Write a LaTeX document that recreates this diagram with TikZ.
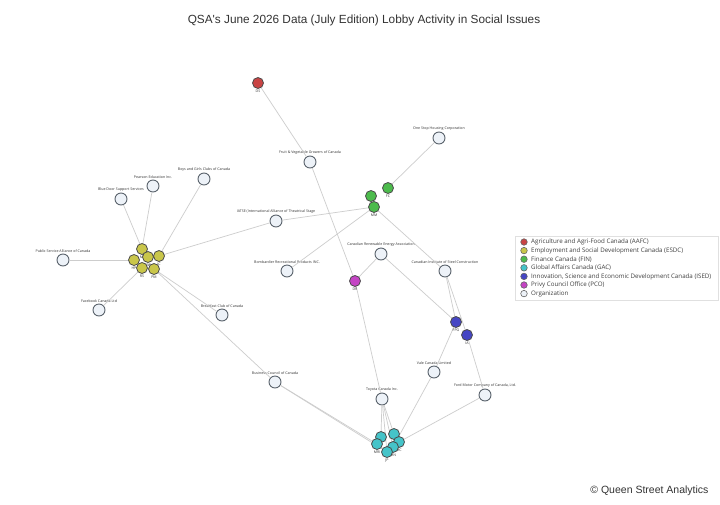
\documentclass[tikz,border=0pt]{standalone}
\usepackage{fontspec}
\setmainfont{Open Sans}
\newfontfamily\titlefont{Liberation Sans}
\definecolor{aafc}{HTML}{C94444}
\definecolor{esdc}{HTML}{C9C64A}
\definecolor{fin}{HTML}{4CBB4C}
\definecolor{gac}{HTML}{45C4C9}
\definecolor{ised}{HTML}{4646C4}
\definecolor{pco}{HTML}{C444C4}
\definecolor{orgfill}{HTML}{EDF2F8}
\definecolor{orgline}{HTML}{5A636C}
\definecolor{edgec}{HTML}{CDCDCD}
\tikzset{
  lbl/.style={font=\fontsize{3.6}{4}\selectfont, text=black!80, inner sep=0.5pt},
  org/.style={circle, minimum size=12pt, inner sep=0pt, fill=orgfill, draw=orgline, line width=0.9pt,
     label={[lbl, label distance=0.6pt]above:#1}},
  gov/.style n args={2}{circle, minimum size=11pt, inner sep=0pt, fill=#1, draw=black!70, line width=0.8pt,
     label={[lbl, label distance=0pt]below:#2}},
  edge/.style={draw=edgec, line width=0.7pt},
  legtext/.style={font=\fontsize{6.2}{7.5}\selectfont, text=black!75, anchor=west, inner sep=0pt},
  legmark/.style={circle, minimum size=6.5pt, inner sep=0pt, fill=#1, draw=black!60, line width=0.6pt}
}
\begin{document}
\begin{tikzpicture}[x=1pt,y=-1pt]
\useasboundingbox[fill=white] (0,0) rectangle (720,504);
\node[font=\titlefont\fontsize{11.8}{14}\selectfont, text=black!80] (title) at (364,20) {QSA's June 2026 Data (July Edition) Lobby Activity in Social Issues};

% organization nodes
\node[gov={aafc}{DS}] (ds) at (258,83) {};
\node[org={Fruit \& Vegetable Growers of Canada}] (fv) at (310,162) {};
\node[org={One Stop Housing Corporation}] (osh) at (439,138) {};
\node[org={Boys and Girls Clubs of Canada}] (bg) at (204,179) {};
\node[org={Pearson Education Inc.}] (pe) at (153,186) {};
\node[org={Blue Door Support Services}] (bd) at (121,199) {};
\node[org={IATSE (International Alliance of Theatrical Stage}] (iat) at (276,221) {};
\node[org={Public Service Alliance of Canada}] (psa) at (63,260) {};
\node[org={Facebook Canada Ltd}] (fb) at (99,310) {};
\node[org={Breakfast Club of Canada}] (bkc) at (222,315) {};
\node[org={Bombardier Recreational Products INC.}] (bom) at (287,271) {};
\node[org={Canadian Renewable Energy Association}] (crea) at (381,254) {};
\node[org={Canadian Institute of Steel Construction}] (cisc) at (445,271) {};
\node[org={Vale Canada Limited}] (vale) at (434,372) {};
\node[org={Business Council of Canada}] (bcc) at (275,382) {};
\node[org={Toyota Canada Inc.}] (toy) at (382,399) {};
\node[org={Ford Motor Company of Canada, Ltd.}] (ford) at (485,395) {};

% coordinates for government clusters (nodes drawn after edges)
\coordinate (e1) at (142,249);
\coordinate (e2) at (134,260);
\coordinate (e3) at (148,257);
\coordinate (e4) at (159,256);
\coordinate (e5) at (142,268);
\coordinate (e6) at (154,269);
\coordinate (f1) at (371,196);
\coordinate (f2) at (388,188);
\coordinate (f3) at (374,207);
\coordinate (p1) at (355,281);
\coordinate (i1) at (456,322);
\coordinate (i2) at (467,335);
\coordinate (g1) at (381,437);
\coordinate (g2) at (394,434);
\coordinate (g3) at (399,442);
\coordinate (g4) at (393,447);
\coordinate (g5) at (387,452);
\coordinate (g6) at (377,444);

% edges
\draw[edge] (ds) -- (fv);
\draw[edge] (fv) -- (p1);
\draw[edge] (p1) -- (crea);
\draw[edge] (p1) -- (toy);
\draw[edge] (crea) -- (i1);
\draw[edge] (cisc) -- (i1);
\draw[edge] (cisc) -- (i2);
\draw[edge] (i2) -- (ford);
\draw[edge] (f3) -- (cisc);
\draw[edge] (f2) -- (osh);
\draw[edge] (iat) -- (f3);
\draw[edge] (bom) -- (f3);
\draw[edge] (e4) -- (iat);
\draw[edge] (e1) -- (bd);
\draw[edge] (e1) -- (pe);
\draw[edge] (e4) -- (bg);
\draw[edge] (e2) -- (psa);
\draw[edge] (e5) -- (fb);
\draw[edge] (e6) -- (bkc);
\draw[edge] (e6) -- (bcc);
\draw[edge] (i1) -- (vale);
\draw[edge] (vale) -- (g4);
\draw[edge] (ford) -- (g3);
\draw[edge] (bcc) -- (g6);
\draw[edge] (bcc) -- (g5);
\draw[edge] (toy) -- (g1);
\draw[edge] (toy) -- (g2);
\draw[edge] (toy) -- (g4);
\draw[edge] (toy) -- (g5);

% government nodes on top
\node[gov={esdc}{MI}] (ne1) at (e1) {};
\node[gov={esdc}{HP}] (ne2) at (e2) {};
\node[gov={esdc}{MW}] (ne3) at (e3) {};
\node[gov={esdc}{JC}] (ne4) at (e4) {};
\node[gov={esdc}{RS}] (ne5) at (e5) {};
\node[gov={esdc}{PM}] (ne6) at (e6) {};
\node[gov={fin}{}] (nf1) at (f1) {};
\node[gov={fin}{FC}] (nf2) at (f2) {};
\node[gov={fin}{MM}] (nf3) at (f3) {};
\node[gov={pco}{DR}] (np1) at (p1) {};
\node[gov={ised}{FPG}] (ni1) at (i1) {};
\node[gov={ised}{IA}] (ni2) at (i2) {};
\node[gov={gac}{}] (ng1) at (g1) {};
\node[gov={gac}{}] (ng2) at (g2) {};
\node[gov={gac}{MC}] (ng3) at (g3) {};
\node[gov={gac}{MN}] (ng4) at (g4) {};
\node[gov={gac}{JP}] (ng5) at (g5) {};
\node[gov={gac}{MRI}] (ng6) at (g6) {};

% legend
\node[draw=black!12, fill=white, line width=0.6pt, minimum width=203pt, minimum height=64pt, anchor=north west, inner sep=0pt] (legbox) at (515,236) {};
\node[legmark=aafc] (lm1) at (524,242) {};
\node[legtext] (lt1) at (531,242) {Agriculture and Agri-Food Canada (AAFC)};
\node[legmark=esdc] (lm2) at (524,250.6) {};
\node[legtext] (lt2) at (531,250.6) {Employment and Social Development Canada (ESDC)};
\node[legmark=fin] (lm3) at (524,259.2) {};
\node[legtext] (lt3) at (531,259.2) {Finance Canada (FIN)};
\node[legmark=gac] (lm4) at (524,267.8) {};
\node[legtext] (lt4) at (531,267.8) {Global Affairs Canada (GAC)};
\node[legmark=ised] (lm5) at (524,276.4) {};
\node[legtext] (lt5) at (531,276.4) {Innovation, Science and Economic Development Canada (ISED)};
\node[legmark=pco] (lm6) at (524,285) {};
\node[legtext] (lt6) at (531,285) {Privy Council Office (PCO)};
\node[legmark=orgfill] (lm7) at (524,293.6) {};
\node[legtext] (lt7) at (531,293.6) {Organization};

\node[font=\titlefont\fontsize{10.5}{12}\selectfont, text=black!80, anchor=east] (copy) at (712,491) {\textcopyright\ Queen Street Analytics};
\end{tikzpicture}
\end{document}
